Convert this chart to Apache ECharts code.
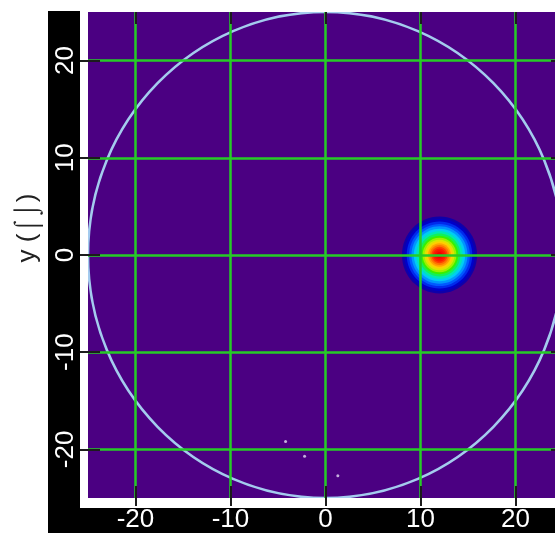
<!DOCTYPE html>
<html><head><meta charset="utf-8">
<script src="https://cdn.jsdelivr.net/npm/echarts@6/dist/echarts.min.js"></script>
<style>html,body{margin:0;padding:0;background:#fff}#c{width:555px;height:533px}</style>
</head><body><div id="c"></div>
<script>
// ---- data ----
const xTicks = [-20, -10, 0, 10, 20];
const yTicks = [-20, -10, 0, 10, 20];
const tickLabels = ['-20', '-10', '0', '10', '20'];
const yTitle = 'y (\u2320\u2321)';
const xRange = [-25, 24.16];                  // visible part (image is cropped on the right)
const yRange = [-25, 25];
const boundaryCircle = [[0, 0, 25]];          // centre x, centre y, radius
const spotCenter = [12, 0];
const spotRadii  = [3.95, 3.7, 3.45, 3.2, 2.95, 2.7, 2.45, 2.2, 1.98, 1.78, 1.58, 1.38, 1.2, 1.02, 0.85, 0.68, 0.5, 0.32];
const spotLevels = [0.04, 0.09, 0.15, 0.21, 0.28, 0.35, 0.42, 0.49, 0.55, 0.61, 0.67, 0.73, 0.78, 0.83, 0.88, 0.92, 0.96, 1.0];
const specks = [[-4.2, -19.2], [-2.2, -20.7], [1.3, -22.7]];

const spotData = spotRadii.map((r, i) => [spotCenter[0], spotCenter[1], r, spotLevels[i]]);

const chart = echarts.init(document.getElementById('c'), null, {renderer: 'canvas'});
const font = '"Liberation Sans", Arial, sans-serif';
const tickColor = '#1c1c1c';

function ellipseItem(fillOrStroke) {
  return function (params, api) {
    const c = api.coord([api.value(0), api.value(1)]);
    const s = api.size([api.value(2), api.value(2)]);
    return {
      type: 'ellipse',
      shape: {cx: c[0], cy: c[1], rx: s[0], ry: s[1]},
      style: fillOrStroke === 'fill'
        ? {fill: api.visual('color'), stroke: null}
        : {fill: null, stroke: '#a4cbee', lineWidth: 2.6}
    };
  };
}

function xAxisDef(pos, showLabel, inside, len) {
  return {
    type: 'value', min: xRange[0], max: xRange[1], position: pos, z: 10,
    axisLine: {show: false, onZero: false},
    splitLine: {show: false},
    axisTick: {show: true, inside: inside, length: len, customValues: xTicks,
      lineStyle: {color: tickColor, width: 2}},
    axisLabel: {show: showLabel, customValues: xTicks, color: '#fff', fontSize: 26,
      fontFamily: font, margin: 9,
      formatter: v => tickLabels[xTicks.indexOf(v)]}
  };
}
function yAxisDef(pos, showLabel, inside, len) {
  return {
    type: 'value', min: yRange[0], max: yRange[1], position: pos, z: 10,
    axisLine: {show: false, onZero: false},
    splitLine: {show: false},
    axisTick: {show: true, inside: inside, length: len, customValues: yTicks,
      lineStyle: {color: tickColor, width: 2}},
    axisLabel: {show: showLabel, customValues: yTicks, color: '#fff', fontSize: 26,
      fontFamily: font, margin: 9, rotate: 90,
      formatter: v => tickLabels[yTicks.indexOf(v)]}
  };
}

chart.setOption({
  backgroundColor: '#fff',
  animation: false,
  graphic: [
    {type: 'rect', z: -10, shape: {x: 48, y: 11, width: 32, height: 522}, style: {fill: '#000'}},
    {type: 'rect', z: -10, shape: {x: 48, y: 508, width: 507, height: 25}, style: {fill: '#000'}},
    {type: 'text', x: 28, y: 228, rotation: Math.PI / 2,
      style: {text: yTitle, fontSize: 26, fontFamily: font, fill: '#222',
        align: 'center', verticalAlign: 'middle'}}
  ],
  grid: {left: 88, top: 12, right: 0, height: 488, show: true,
    backgroundColor: '#4b0082', borderWidth: 0},
  xAxis: [xAxisDef('bottom', true, false, 8), xAxisDef('bottom', false, true, 12), xAxisDef('top', false, true, 12)],
  yAxis: [yAxisDef('left', true, false, 8), yAxisDef('left', false, true, 12), yAxisDef('right', false, true, 4)],
  visualMap: {
    type: 'continuous', show: false, min: 0, max: 1, dimension: 3, seriesIndex: 0,
    inRange: {color: ['#1a0090', '#0000c8', '#0040ff', '#0090ff', '#00d8f0', '#00f090', '#30f000', '#c8f000', '#ffd000', '#ff8000', '#ff2000', '#f00000']}
  },
  series: [
    {type: 'custom', z: 2, clip: true, renderItem: ellipseItem('fill'),
      encode: {x: 0, y: 1}, data: spotData, silent: true},
    {type: 'line', z: 3, data: [], silent: true,
      markLine: {silent: true, symbol: 'none', animation: false, label: {show: false},
        lineStyle: {color: '#26cc26', width: 2.5, type: 'solid'},
        data: xTicks.map(v => ({xAxis: v})).concat(yTicks.map(v => ({yAxis: v})))}},
    {type: 'custom', z: 4, clip: true, renderItem: ellipseItem('stroke'),
      encode: {x: 0, y: 1}, data: boundaryCircle, silent: true},
    {type: 'scatter', z: 5, symbolSize: 3, data: specks,
      itemStyle: {color: '#e4dcf4'}, silent: true}
  ]
});
</script></body></html>
